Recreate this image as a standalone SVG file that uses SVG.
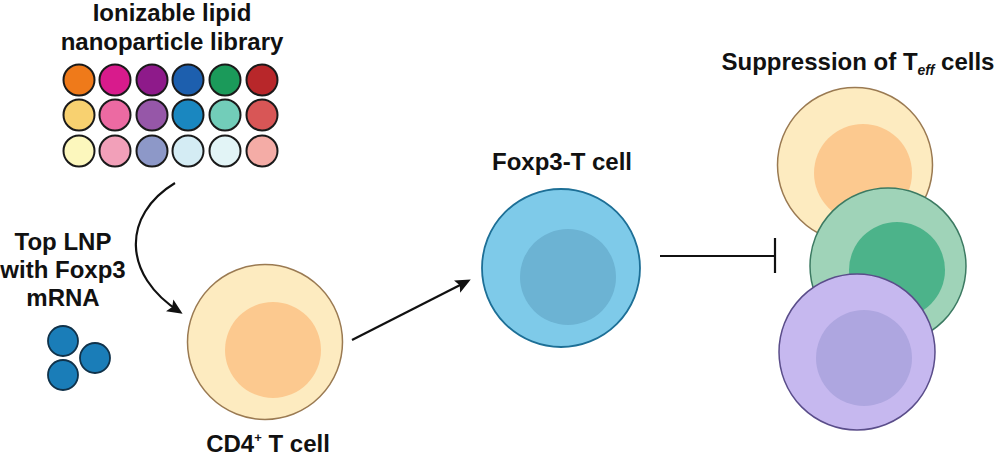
<svg xmlns="http://www.w3.org/2000/svg" width="1000" height="457" viewBox="0 0 1000 457">
<style>
text{font-family:"Liberation Sans",Arial,sans-serif;font-weight:bold;fill:#111;text-anchor:middle}
.t{font-size:24px}
.lnp{stroke:#1a1a1a;stroke-width:2}
.edge{stroke:#111;stroke-width:2.2;fill:none}
</style>
<defs>
<marker id="ah" viewBox="0 0 10 10" refX="8" refY="5" markerWidth="7" markerHeight="7" orient="auto" markerUnits="strokeWidth">
<path d="M0,0.5 L10,5 L0,9.5 L2,5 Z" fill="#111"/>
</marker>
</defs>
<rect width="1000" height="457" fill="#fff"/>
<g id="library">
<text class="t" x="172" y="21">Ionizable lipid</text>
<text class="t" x="172" y="50">nanoparticle library</text>
<circle class="lnp" cx="79" cy="80" r="15.5" fill="#ef7a1a"/>
<circle class="lnp" cx="115" cy="80" r="15.5" fill="#d81b8c"/>
<circle class="lnp" cx="152" cy="80" r="15.5" fill="#8e1a8a"/>
<circle class="lnp" cx="188" cy="80" r="15.5" fill="#1d5fae"/>
<circle class="lnp" cx="225" cy="80" r="15.5" fill="#1b9a5a"/>
<circle class="lnp" cx="262" cy="80" r="15.5" fill="#b8272a"/>
<circle class="lnp" cx="79" cy="115" r="15.5" fill="#f8d170"/>
<circle class="lnp" cx="115" cy="115" r="15.5" fill="#ec6aa2"/>
<circle class="lnp" cx="152" cy="115" r="15.5" fill="#9657a8"/>
<circle class="lnp" cx="188" cy="115" r="15.5" fill="#1a87c0"/>
<circle class="lnp" cx="225" cy="115" r="15.5" fill="#72cdb9"/>
<circle class="lnp" cx="262" cy="115" r="15.5" fill="#d85656"/>
<circle class="lnp" cx="79" cy="151" r="15.5" fill="#fcf7bd"/>
<circle class="lnp" cx="115" cy="151" r="15.5" fill="#f2a0b9"/>
<circle class="lnp" cx="152" cy="151" r="15.5" fill="#8d98c8"/>
<circle class="lnp" cx="188" cy="151" r="15.5" fill="#d4ecf4"/>
<circle class="lnp" cx="225" cy="151" r="15.5" fill="#e2f4f6"/>
<circle class="lnp" cx="262" cy="151" r="15.5" fill="#f4aca6"/>
</g>
<g id="top-lnp">
<text class="t" x="63" y="250">Top LNP</text>
<text class="t" x="63" y="278">with Foxp3</text>
<text class="t" x="63" y="306">mRNA</text>
<circle cx="63" cy="341" r="15" fill="#1a7db8" stroke="#10324a" stroke-width="1.8"/>
<circle cx="95" cy="358" r="15" fill="#1a7db8" stroke="#10324a" stroke-width="1.8"/>
<circle cx="63" cy="375" r="15" fill="#1a7db8" stroke="#10324a" stroke-width="1.8"/>
</g>
<g id="cd4">
<circle cx="265" cy="342" r="77.5" fill="#fdebc0" stroke="#9a7a52" stroke-width="1.5"/>
<circle cx="273" cy="350" r="48" fill="#fcc98f"/>
<text class="t" x="268" y="452">CD4<tspan font-size="13" dy="-10">+</tspan><tspan dy="10"> T cell</tspan></text>
</g>
<g id="foxp3">
<text class="t" x="562" y="170">Foxp3-T cell</text>
<circle cx="561" cy="268" r="79" fill="#7ecae9" stroke="#1d6f96" stroke-width="1.8"/>
<circle cx="568" cy="277" r="48" fill="#6cb3d3"/>
</g>
<g id="teff">
<text class="t" x="858" y="70">Suppression of T<tspan font-size="14" font-style="italic" dy="5">eff</tspan><tspan dy="-5"> cells</tspan></text>
<circle cx="855" cy="165" r="77.5" fill="#fdebc0" stroke="#9a7a52" stroke-width="1.5"/>
<circle cx="863" cy="173" r="49" fill="#fcc98f"/>
<circle cx="888" cy="266" r="78" fill="#9fd3b8" stroke="#3c7a62" stroke-width="1.5"/>
<circle cx="897" cy="270" r="48" fill="#4cb38a"/>
<circle cx="857" cy="352" r="78" fill="#c6b8ef" stroke="#5a4d8a" stroke-width="1.5"/>
<circle cx="864" cy="358" r="48" fill="#aea6e0"/>
</g>
<g id="connectors">
<path class="edge" d="M175,183 C122,215 122,275 180,312" marker-end="url(#ah)"/>
<line class="edge" x1="352" y1="340" x2="468" y2="281" marker-end="url(#ah)"/>
<line class="edge" x1="660" y1="256" x2="775" y2="256"/>
<line class="edge" x1="775" y1="238" x2="775" y2="273"/>
</g>
</svg>
